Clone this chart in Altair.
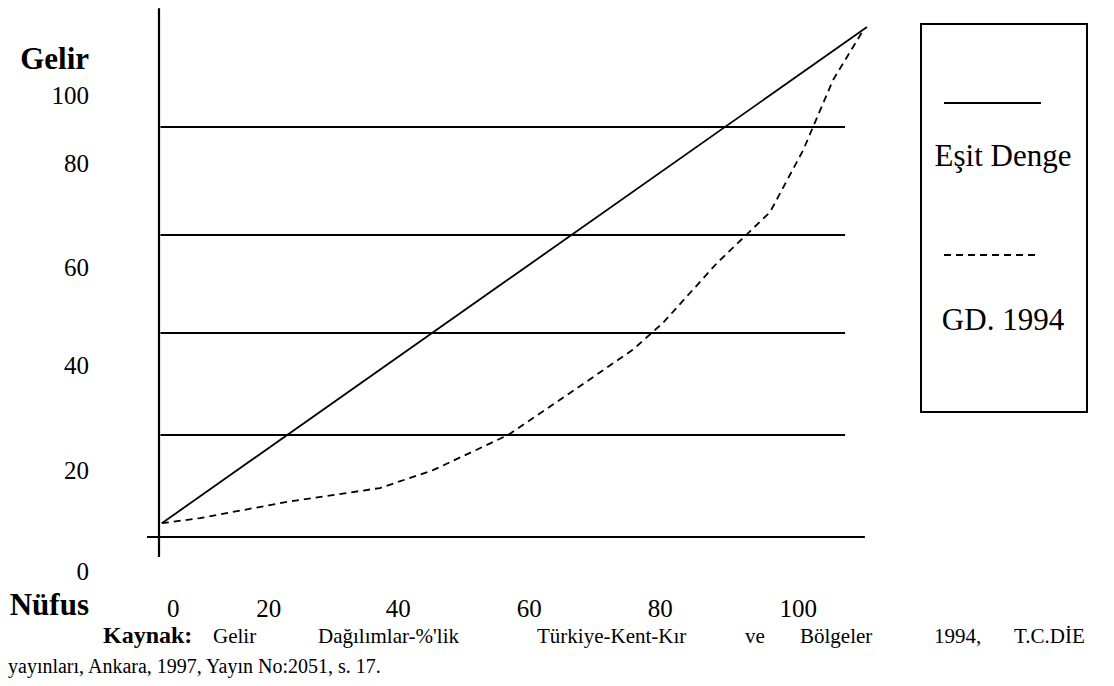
import altair as alt
import pandas as pd

# ---------------- data ----------------
# "Eşit Denge" (equal distribution) line: population % -> income %
equal_x = [0.4, 100.0]
equal_y = [2.7, 100.0]

# "GD. 1994" Lorenz curve
gd_x = [0.4, 5.8, 18.1, 31.2, 38.7, 49.3, 57.6, 66.9, 71.2, 78.8, 86.3, 91.0, 95.2, 99.3]
gd_y = [2.7, 3.7, 6.9, 9.6, 13.1, 20.0, 27.8, 36.7, 42.0, 53.7, 63.7, 75.9, 89.6, 99.0]

# horizontal guide lines (income levels)
grid_y = [20.0, 40.0, 59.2, 80.4]
grid_x_start = 0.2
grid_x_end = 96.9

# axis lines
x_axis_from, x_axis_to = -1.7, 99.7
y_axis_from, y_axis_to = -3.9, 103.7

# tick labels (as typed in the original, not evenly placed)
y_tick_labels = ["100", "80", "60", "40", "20", "0"]
y_tick_pos = [84.9, 71.6, 51.2, 32.0, 11.4, -8.4]
y_tick_x = -9.9
x_tick_labels = ["0", "20", "40", "60", "80", "100"]
x_tick_pos = [2.0, 15.5, 33.8, 52.3, 70.8, 90.3]
x_tick_y = -15.7

legend_labels = ["Eşit Denge", "GD. 1994"]
caption_line1 = ["Kaynak:", "Gelir", "Dağılımlar-%'lik", "Türkiye-Kent-Kır", "ve",
                 "Bölgeler", "1994,", "T.C.DİE"]
caption_line2 = "yayınları, Ankara, 1997, Yayın No:2051, s. 17."

# ---------------- chart ----------------
W, H = 1098, 670
FONT = "Liberation Serif"
xs = alt.Scale(domain=[-21.328, 133.757], nice=False, zero=False)
ys = alt.Scale(domain=[-27.647, 103.725], nice=False, zero=False)


def X(f):
    return alt.X(f, type="quantitative", scale=xs, axis=None)


def Y(f):
    return alt.Y(f, type="quantitative", scale=ys, axis=None)


one = pd.DataFrame({"k": [0]})

eq_df = pd.DataFrame({"x": equal_x, "y": equal_y})
gd_df = pd.DataFrame({"x": gd_x, "y": gd_y})
grid_df = pd.DataFrame({"y": grid_y, "x": [grid_x_start] * len(grid_y),
                        "x2": [grid_x_end] * len(grid_y)})

layers = []

# guide lines
layers.append(alt.Chart(grid_df).mark_rule(color="black", strokeWidth=2).encode(
    x=X("x"), x2="x2", y=Y("y")))
# x axis line
layers.append(alt.Chart(pd.DataFrame({"x": [x_axis_from], "x2": [x_axis_to], "y": [0]}))
              .mark_rule(color="black", strokeWidth=2).encode(x=X("x"), x2="x2", y=Y("y")))
# y axis line
layers.append(alt.Chart(pd.DataFrame({"y": [y_axis_from], "y2": [y_axis_to], "x": [0]}))
              .mark_rule(color="black", strokeWidth=2.2).encode(y=Y("y"), y2="y2", x=X("x")))

# data lines
layers.append(alt.Chart(eq_df).mark_line(color="black", strokeWidth=1.8).encode(
    x=X("x"), y=Y("y")))
layers.append(alt.Chart(gd_df).mark_line(color="black", strokeWidth=1.8,
                                         strokeDash=[7, 5]).encode(x=X("x"), y=Y("y")))

# tick labels
ytl = pd.DataFrame({"t": y_tick_labels, "y": y_tick_pos, "x": [y_tick_x] * len(y_tick_labels)})
layers.append(alt.Chart(ytl).mark_text(font=FONT, fontSize=25, align="right",
                                       baseline="alphabetic", color="black").encode(
    x=X("x"), y=Y("y"), text="t:N"))
xtl = pd.DataFrame({"t": x_tick_labels, "x": x_tick_pos, "y": [x_tick_y] * len(x_tick_labels)})
layers.append(alt.Chart(xtl).mark_text(font=FONT, fontSize=25, align="center",
                                       baseline="alphabetic", color="black").encode(
    x=X("x"), y=Y("y"), text="t:N"))

# axis titles
layers.append(alt.Chart(one).mark_text(font=FONT, fontSize=31, fontWeight="bold",
                                       align="right", baseline="alphabetic",
                                       color="black", text="Gelir").encode(
    x=alt.value(81), y=alt.value(61)))
layers.append(alt.Chart(one).mark_text(font=FONT, fontSize=31, fontWeight="bold",
                                       align="right", baseline="alphabetic",
                                       color="black", text="Nüfus").encode(
    x=alt.value(81), y=alt.value(607)))

# legend box
layers.append(alt.Chart(one).mark_rect(fill="white", stroke="black", strokeWidth=2).encode(
    x=alt.value(913), x2=alt.value(1079), y=alt.value(16), y2=alt.value(404)))
layers.append(alt.Chart(one).mark_rule(color="black", strokeWidth=1.8).encode(
    x=alt.value(936), x2=alt.value(1033), y=alt.value(95)))
layers.append(alt.Chart(one).mark_rule(color="black", strokeWidth=1.8, strokeDash=[7, 5]).encode(
    x=alt.value(936), x2=alt.value(1027), y=alt.value(247)))
layers.append(alt.Chart(one).mark_text(font=FONT, fontSize=31, align="center",
                                       baseline="alphabetic", color="black",
                                       text=legend_labels[0]).encode(
    x=alt.value(995), y=alt.value(158)))
layers.append(alt.Chart(one).mark_text(font=FONT, fontSize=31, align="center",
                                       baseline="alphabetic", color="black",
                                       text=legend_labels[1]).encode(
    x=alt.value(995), y=alt.value(322)))

# source caption (first line justified word by word)
word_left = [95, 205, 310, 529, 737, 792, 926, 1006]
for i, w in enumerate(caption_line1):
    if i == 0:
        mk = alt.Chart(one).mark_text(font=FONT, fontSize=24, fontWeight="bold", align="left",
                                      baseline="alphabetic", color="black", text=w)
    else:
        mk = alt.Chart(one).mark_text(font=FONT, fontSize=21, align="left",
                                      baseline="alphabetic", color="black", text=w)
    layers.append(mk.encode(x=alt.value(word_left[i]), y=alt.value(635)))
layers.append(alt.Chart(one).mark_text(font=FONT, fontSize=20, align="left",
                                       baseline="alphabetic", color="black",
                                       text=caption_line2).encode(
    x=alt.value(0), y=alt.value(665)))

chart = alt.layer(*layers).properties(
    width=W, height=H, padding=0, background="white",
    autosize=alt.AutoSizeParams(type="none")
).configure_view(stroke=None)

chart.save("out.html", embed_options={"renderer": "svg", "actions": False})
